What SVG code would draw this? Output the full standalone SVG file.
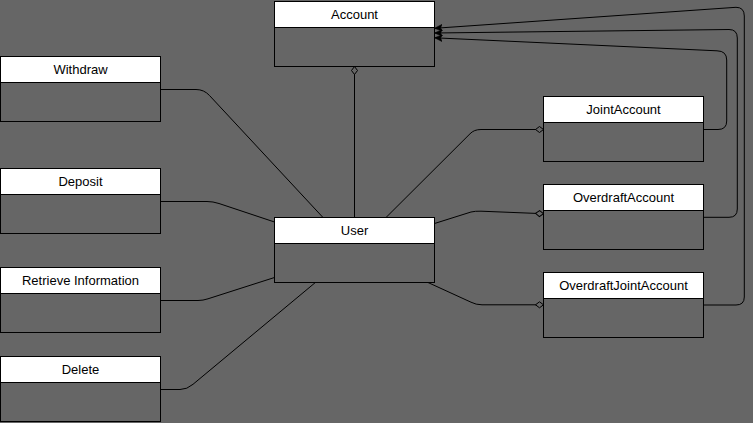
<svg xmlns="http://www.w3.org/2000/svg" width="753" height="423" viewBox="0 0 753 423">
  <style>
    .body { fill: none; stroke: #000; stroke-width: 1; }
    .head { fill: #fff; stroke: #000; stroke-width: 1; }
    .label { font-family: "Liberation Sans", Arial, sans-serif; font-size: 13px; fill: #000; text-anchor: middle; }
    .edge { fill: none; stroke: #000; stroke-width: 1; }
    .inherit { marker-end: url(#arrow); }
    .assoc { marker-end: url(#diamond); }
  </style>
  <defs>
    <marker id="arrow" viewBox="0 0 8 7" refX="8" refY="3.5" markerWidth="8" markerHeight="7" markerUnits="userSpaceOnUse" orient="auto">
      <path d="M0,0 L8,3.5 L0,7 L2,3.5 Z" fill="#000" stroke="#000" stroke-width="0.5"/>
    </marker>
    <marker id="diamond" viewBox="-1 -1 10 8" refX="8" refY="3" markerWidth="10" markerHeight="8" markerUnits="userSpaceOnUse" orient="auto">
      <path d="M0,3 L4,0 L8,3 L4,6 Z" fill="#666666" stroke="#000" stroke-width="1"/>
    </marker>
  </defs>

  <rect x="0" y="0" width="753" height="423" fill="#666666"/>

  <g id="connectors">
    <!-- aggregation: User to Account -->
    <path class="edge assoc" d="M354.5,217.5 V66.5"/>
    <!-- operations attached to User -->
    <path class="edge" d="M160.5,89.5 H196 Q204,89.5 209.5,95.5 L323,217.5"/>
    <path class="edge" d="M160.5,201.5 H207 Q213,201.5 219,203.5 L274.5,222"/>
    <path class="edge" d="M160.5,300.5 H198 Q203,300.5 208,298.8 L274.5,277.5"/>
    <path class="edge" d="M160.5,389.5 H180 Q187,389.5 193,384.3 L315,282.8"/>
    <!-- User aggregated by account kinds -->
    <path class="edge assoc" d="M386,217.5 L470,133.8 Q474,129.5 481,129.5 H543.5"/>
    <path class="edge assoc" d="M434.5,223.5 L471,212 Q475,211 481,211.2 L543.5,213.7"/>
    <path class="edge assoc" d="M428,282.5 L471,302.2 Q476,304.8 482,304.8 H543.5"/>
    <!-- generalisation to Account -->
    <path class="edge inherit" d="M703.5,129.5 H718 Q726.7,129.5 726.7,121 V60 Q726.7,51 717,50.8 L434.5,37.8"/>
    <path class="edge inherit" d="M703.5,217.3 H729 Q737.3,217.3 737.3,209 V38 Q737.3,29.5 729,29.5 L434.5,33"/>
    <path class="edge inherit" d="M703.5,305 H736 Q744.3,305 744.3,297 V16 Q744.3,7.3 736,7.3 L434.5,28.3"/>
  </g>

  <g id="account">
    <rect class="body" x="274.5" y="1.5" width="160" height="65"/>
    <rect class="head" x="274.5" y="1.5" width="160" height="26"/>
    <text class="label" x="354.5" y="19.2">Account</text>
  </g>
  <g id="withdraw">
    <rect class="body" x="0.5" y="56.5" width="160" height="65"/>
    <rect class="head" x="0.5" y="56.5" width="160" height="26"/>
    <text class="label" x="80.5" y="74.2">Withdraw</text>
  </g>
  <g id="deposit">
    <rect class="body" x="0.5" y="168.5" width="160" height="65"/>
    <rect class="head" x="0.5" y="168.5" width="160" height="26"/>
    <text class="label" x="80.5" y="186.2">Deposit</text>
  </g>
  <g id="retrieve-information">
    <rect class="body" x="0.5" y="267.5" width="160" height="65"/>
    <rect class="head" x="0.5" y="267.5" width="160" height="26"/>
    <text class="label" x="80.5" y="285.2">Retrieve Information</text>
  </g>
  <g id="delete">
    <rect class="body" x="0.5" y="356.5" width="160" height="65"/>
    <rect class="head" x="0.5" y="356.5" width="160" height="26"/>
    <text class="label" x="80.5" y="374.2">Delete</text>
  </g>
  <g id="user">
    <rect class="body" x="274.5" y="217.5" width="160" height="65"/>
    <rect class="head" x="274.5" y="217.5" width="160" height="26"/>
    <text class="label" x="354.5" y="235.2">User</text>
  </g>
  <g id="joint-account">
    <rect class="body" x="543.5" y="96.5" width="160" height="65"/>
    <rect class="head" x="543.5" y="96.5" width="160" height="26"/>
    <text class="label" x="623.5" y="114.2">JointAccount</text>
  </g>
  <g id="overdraft-account">
    <rect class="body" x="543.5" y="184.5" width="160" height="65"/>
    <rect class="head" x="543.5" y="184.5" width="160" height="26"/>
    <text class="label" x="623.5" y="202.2">OverdraftAccount</text>
  </g>
  <g id="overdraft-joint-account">
    <rect class="body" x="543.5" y="272.5" width="160" height="65"/>
    <rect class="head" x="543.5" y="272.5" width="160" height="26"/>
    <text class="label" x="623.5" y="290.2">OverdraftJointAccount</text>
  </g>
</svg>
